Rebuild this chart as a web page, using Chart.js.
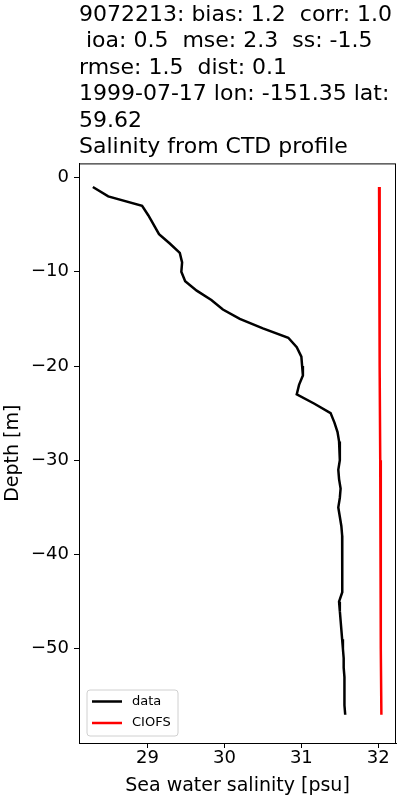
<!DOCTYPE html>
<html>
<head>
<meta charset="utf-8">
<script src="https://cdn.jsdelivr.net/npm/chart.js@4"></script>
<style>
  body { margin: 0; background: #fff; }
  #wrap { width: 400px; height: 800px; }
</style>
</head>
<body>
<div id="wrap"><canvas id="profileChart"></canvas></div>
<script>
// CTD profile (observed)
const obsDepth = [-1,-2,-3,-4,-5,-6,-7,-8,-9,-10,-11,-12,-13,-14,-15,-16,-17,-18,-19,-20,
  -21,-22,-23,-24,-25,-26,-27,-28,-29,-30,-31,-32,-33,-34,-35,-36,-37,-38,-39,-40,
  -41,-42,-43,-44,-45,-46,-47,-48,-49,-50,-51,-52,-53,-54,-55,-56,-57];
const obsSalinity = [28.29,28.49,28.93,29.01,29.08,29.15,29.29,29.42,29.45,29.44,29.49,29.64,29.83,29.98,30.20,30.50,30.83,30.94,31.00,31.01,
  31.02,30.97,30.94,31.17,31.38,31.43,31.47,31.49,31.50,31.50,31.48,31.49,31.51,31.50,31.48,31.50,31.52,31.53,31.53,31.54,
  31.53,31.53,31.53,31.53,31.49,31.50,31.51,31.52,31.53,31.54,31.55,31.55,31.56,31.56,31.56,31.56,31.57];

// model (CIOFS)
const modelDepth = [-1,-10,-20,-30,-40,-50,-57];
const modelSalinity = [32.01,32.015,32.02,32.025,32.03,32.035,32.04];

const xTicks = [29,30,31,32];
const yTicks = [0,-10,-20,-30,-40,-50];

const titleLines = [
  "9072213: bias: 1.2  corr: 1.0",
  " ioa: 0.5  mse: 2.3  ss: -1.5",
  "rmse: 1.5  dist: 0.1",
  "1999-07-17 lon: -151.35 lat:",
  "59.62",
  "Salinity from CTD profile"
];

const toPoints = (xs, ys) => xs.map((x, i) => ({x: x, y: ys[i]}));
const minus = v => String(v).replace("-", "\u2212");
const FONT = "'DejaVu Sans', sans-serif";

// axes box round the plot
const frame = {
  id: "frame",
  afterDatasetsDraw(chart) {
    const a = chart.chartArea, ctx = chart.ctx;
    ctx.save();
    ctx.strokeStyle = "#000";
    ctx.lineWidth = 1;
    ctx.strokeRect(a.left + 0.5, a.top + 0.5, a.right - a.left - 1, a.bottom - a.top);
    ctx.restore();
  }
};

// legend in the lower left corner
const cornerLegend = {
  id: "cornerLegend",
  afterDraw(chart) {
    const ctx = chart.ctx, a = chart.chartArea;
    const x = a.left + 8, y = a.bottom - 53, w = 91, h = 46;
    ctx.save();
    ctx.beginPath();
    ctx.roundRect(x, y, w, h, 3);
    ctx.fillStyle = "rgba(255,255,255,0.8)";
    ctx.fill();
    ctx.strokeStyle = "#d0d0d0";
    ctx.lineWidth = 1;
    ctx.stroke();
    ctx.font = "13px " + FONT;
    ctx.textBaseline = "middle";
    chart.data.datasets.forEach((ds, i) => {
      const ly = y + 11.5 + i * 21.5;
      ctx.beginPath();
      ctx.moveTo(x + 5, ly);
      ctx.lineTo(x + 35, ly);
      ctx.strokeStyle = ds.borderColor;
      ctx.lineWidth = 2.5;
      ctx.stroke();
      ctx.fillStyle = "#000";
      ctx.fillText(ds.label, x + 45, ly);
    });
    ctx.restore();
  }
};

new Chart(document.getElementById("profileChart"), {
  type: "scatter",
  data: {
    datasets: [
      {
        label: "data",
        data: toPoints(obsSalinity, obsDepth),
        showLine: true,
        borderColor: "#000000",
        borderWidth: 2.5,
        pointRadius: 0,
        tension: 0
      },
      {
        label: "CIOFS",
        data: toPoints(modelSalinity, modelDepth),
        showLine: true,
        borderColor: "#ff0000",
        borderWidth: 2.5,
        pointRadius: 0,
        tension: 0
      }
    ]
  },
  options: {
    responsive: true,
    maintainAspectRatio: false,
    animation: false,
    layout: { padding: { left: 0, right: 4, top: 0, bottom: 0 } },
    plugins: {
      legend: { display: false },
      tooltip: { enabled: false },
      title: {
        display: true,
        text: titleLines,
        align: "start",
        fullSize: false,
        color: "#000",
        font: { family: FONT, size: 22, weight: "normal", lineHeight: 1.2 },
        padding: { top: 2, bottom: 3 }
      }
    },
    scales: {
      x: {
        type: "linear",
        min: 28.11,
        max: 32.23,
        afterBuildTicks: s => { s.ticks = xTicks.map(v => ({value: v})); },
        afterFit: s => { s.height = 57; },
        grid: { drawOnChartArea: false, drawTicks: true, tickLength: 5, color: "#000" },
        border: { display: true, color: "#000", width: 1 },
        ticks: { color: "#000", padding: 0, font: { family: FONT, size: 18 }, callback: v => minus(v) },
        title: { display: true, text: "Sea water salinity [psu]", color: "#000",
          font: { family: FONT, size: 19 }, padding: { top: 0, bottom: 3 } }
      },
      y: {
        type: "linear",
        min: -60,
        max: 1.5,
        afterBuildTicks: s => { s.ticks = yTicks.map(v => ({value: v})); },
        afterFit: s => { s.width = 79; },
        grid: { drawOnChartArea: false, drawTicks: true, tickLength: 5, color: "#000" },
        border: { display: true, color: "#000", width: 1 },
        ticks: { color: "#000", padding: 5, font: { family: FONT, size: 18 }, callback: v => minus(v) },
        title: { display: true, text: "Depth [m]", color: "#000",
          font: { family: FONT, size: 19 }, padding: { top: 2, bottom: 0 } }
      }
    }
  },
  plugins: [frame, cornerLegend]
});
</script>
</body>
</html>
